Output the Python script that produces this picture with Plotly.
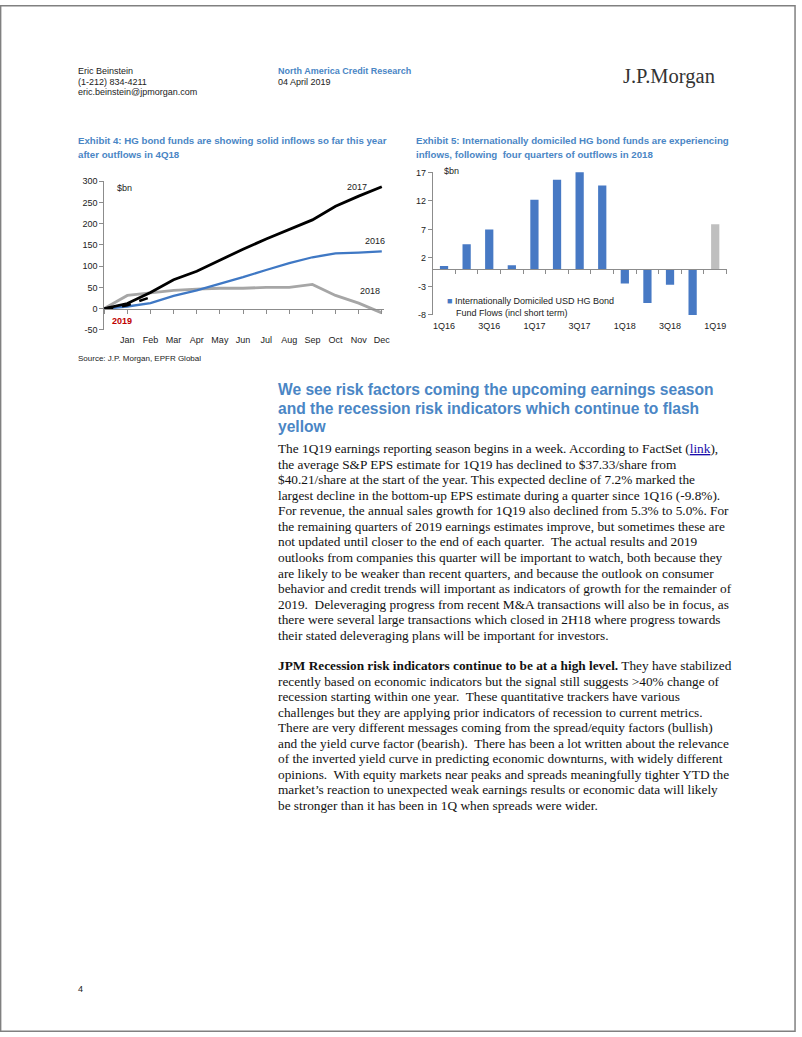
import plotly.graph_objects as go

W, H = 802, 1037

# ---------------- data ----------------
months = ["Jan", "Feb", "Mar", "Apr", "May", "Jun", "Jul", "Aug", "Sep", "Oct", "Nov", "Dec"]
month_pos = list(range(0, 13))  # 0 = start of year
flows_2016 = [0, 5, 13, 30, 43, 58, 74, 91, 107, 121, 130, 132, 135]
flows_2017 = [0, 12, 38, 68, 88, 114, 140, 164, 187, 209, 241, 265, 287]
flows_2018 = [0, 31, 37, 43, 46, 48, 48, 50, 50, 57, 31, 13, -10]
pos_2019 = [0, 0.5, 1.0, 1.5, 1.9]
flows_2019 = [0, 3, 8, 17, 25]

quarters = ["1Q16", "2Q16", "3Q16", "4Q16", "1Q17", "2Q17", "3Q17", "4Q17",
            "1Q18", "2Q18", "3Q18", "4Q18", "1Q19"]
intl_flows = [0.6, 4.4, 7.0, 0.7, 12.2, 15.7, 17.2, 14.7, -2.5, -5.9, -2.7, -8.0, 7.9]
quarter_ticks = quarters[::2]

y1_ticks = [-50, 0, 50, 100, 150, 200, 250, 300]
y2_ticks = [-8, -3, 2, 7, 12, 17]

# ---------------- styles ----------------
SANS = "Arial, Liberation Sans, sans-serif"
SERIF = "Times New Roman, Liberation Serif, serif"
TITLE_BLUE = "#4a86c5"
LINE_BLUE = "#3f78c4"
BAR_BLUE = "#4779c4"
AXIS_GRAY = "#8c8c8c"
TXT = "#222222"


def px(x):
    return x / W


def py(y):
    return 1 - y / H


fig = go.Figure()

# Exhibit 4 lines
fig.add_trace(go.Scatter(x=month_pos, y=flows_2018, mode="lines",
                         line=dict(color="#a6a6a6", width=2.8), xaxis="x", yaxis="y"))
fig.add_trace(go.Scatter(x=month_pos, y=flows_2016, mode="lines",
                         line=dict(color=LINE_BLUE, width=2.3), xaxis="x", yaxis="y"))
fig.add_trace(go.Scatter(x=month_pos, y=flows_2017, mode="lines",
                         line=dict(color="#000000", width=2.8), xaxis="x", yaxis="y"))
fig.add_trace(go.Scatter(x=pos_2019, y=flows_2019, mode="lines",
                         line=dict(color="#000000", width=2.6, dash="dash"), xaxis="x3", yaxis="y"))

# Exhibit 5 bars
bar_colors = [BAR_BLUE] * (len(quarters) - 1) + ["#bfbfbf"]
fig.add_trace(go.Bar(x=list(range(len(quarters))), y=intl_flows, marker=dict(color=bar_colors, line=dict(width=0)),
                     xaxis="x2", yaxis="y2"))
fig.add_trace(go.Scatter(x=[None], y=[None], mode="lines", xaxis="x4", yaxis="y2", hoverinfo="skip"))

tickfont = dict(family=SANS, size=9, color=TXT)

c1x = [px(105), px(387)]
c1y = [py(328), py(178)]
c2x = [px(436), px(732)]
c2y = [py(313), py(169)]

fig.update_layout(
    width=W, height=H, margin=dict(l=0, r=0, t=0, b=0),
    paper_bgcolor="white", plot_bgcolor="rgba(0,0,0,0)",
    showlegend=False, bargap=0.635,
    xaxis=dict(domain=c1x, range=[0, 12.1], anchor="y", tickmode="array",
               tickvals=month_pos[1:], ticktext=months, showline=False, ticks="",
               showgrid=False, zeroline=False, tickfont=tickfont, ticklabelstandoff=3),
    yaxis=dict(domain=c1y, range=[-50, 300], anchor="x", tickmode="array", tickvals=y1_ticks,
               ticktext=[str(v) for v in y1_ticks],
               showline=True, linecolor=AXIS_GRAY, linewidth=1, ticks="outside", ticklen=4,
               tickcolor=AXIS_GRAY, showgrid=False, zeroline=False, tickfont=tickfont),
    xaxis3=dict(overlaying="x", range=[0, 12.1], anchor="free", position=py(307),
                tickmode="array", tickvals=month_pos, showticklabels=False, ticks="outside",
                ticklen=4, tickcolor=AXIS_GRAY, showline=True, linecolor=AXIS_GRAY, linewidth=1,
                showgrid=False, zeroline=False),
    xaxis2=dict(domain=c2x, range=[-0.5, 12.5], anchor="y2", tickmode="array",
                tickvals=list(range(0, len(quarters), 2)), ticktext=quarter_ticks,
                showline=False, ticks="", showgrid=False, zeroline=False, tickfont=tickfont,
                ticklabelstandoff=4),
    yaxis2=dict(domain=c2y, range=[-8, 17], anchor="x2", tickmode="array", tickvals=y2_ticks,
                ticktext=[str(v) for v in y2_ticks],
                showline=True, linecolor=AXIS_GRAY, linewidth=1, ticks="outside", ticklen=4,
                tickcolor=AXIS_GRAY, showgrid=False, zeroline=False, tickfont=tickfont),
    xaxis4=dict(overlaying="x2", range=[-0.5, 12.5], anchor="free", position=py(266.9),
                tickmode="array", tickvals=[i + 0.5 for i in range(-1, len(quarters))],
                showticklabels=False, ticks="outside", ticklen=4, tickcolor=AXIS_GRAY,
                showline=True, linecolor=AXIS_GRAY, linewidth=1, showgrid=False, zeroline=False),
)

ann = []


def text(x, y, s, size=9, color=TXT, family=SANS, xanchor="left"):
    ann.append(dict(x=px(x), y=py(y), xref="paper", yref="paper", text=s, showarrow=False,
                    xanchor=xanchor, yanchor="middle", align="left",
                    font=dict(family=family, size=size, color=color)))


# header
text(77, 67, "Eric Beinstein")
text(77, 78, "(1-212) 834-4211")
text(77, 88, "eric.beinstein@jpmorgan.com")
text(278, 67, "<b>North America Credit Research</b>", color=TITLE_BLUE)
text(278, 78, "04 April 2019")
text(626, 72, "J.P.Morgan", size=20.5, color="#333333", family=SERIF)

# exhibit titles
t4 = 9.7
text(77, 137, "<b>Exhibit 4: HG bond funds are showing solid inflows so far this year</b>", size=t4, color=TITLE_BLUE)
text(77, 151, "<b>after outflows in 4Q18</b>", size=t4, color=TITLE_BLUE)
text(417, 137, "<b>Exhibit 5: Internationally domiciled HG bond funds are experiencing</b>", size=t4, color=TITLE_BLUE)
text(417, 151, "<b>inflows, following  four quarters of outflows in 2018</b>", size=t4, color=TITLE_BLUE)

# chart 1 labels
text(116, 185, "$bn")
text(360, 184, "2017", xanchor="center")
text(378, 238, "2016", xanchor="center")
text(373, 289, "2018", xanchor="center")
text(123, 319, "<b>2019</b>", color="#c00000", xanchor="center")
text(77, 357, "Source: J.P. Morgan, EPFR Global", size=8)

# chart 2 labels
text(445, 168, "$bn")
text(448, 299, "<span style='color:%s'>■</span> Internationally Domiciled USD HG Bond" % BAR_BLUE)
text(457, 311, "Fund Flows (incl short term)")

# heading
heading = ["We see risk factors coming the upcoming earnings season",
           "and the recession risk indicators which continue to flash",
           "yellow"]
for i, s in enumerate(heading):
    text(278, 388 + i * 19, "<b>%s</b>" % s, size=15.6, color=TITLE_BLUE)

para1 = [
    "The 1Q19 earnings reporting season begins in a week. According to FactSet (<span style='color:#1a0dab'><u>link</u></span>),",
    "the average S&amp;P EPS estimate for 1Q19 has declined to $37.33/share from",
    "$40.21/share at the start of the year. This expected decline of 7.2% marked the",
    "largest decline in the bottom-up EPS estimate during a quarter since 1Q16 (-9.8%).",
    "For revenue, the annual sales growth for 1Q19 also declined from 5.3% to 5.0%. For",
    "the remaining quarters of 2019 earnings estimates improve, but sometimes these are",
    "not updated until closer to the end of each quarter.  The actual results and 2019",
    "outlooks from companies this quarter will be important to watch, both because they",
    "are likely to be weaker than recent quarters, and because the outlook on consumer",
    "behavior and credit trends will important as indicators of growth for the remainder of",
    "2019.  Deleveraging progress from recent M&amp;A transactions will also be in focus, as",
    "there were several large transactions which closed in 2H18 where progress towards",
    "their stated deleveraging plans will be important for investors.",
]
para2 = [
    "<b>JPM Recession risk indicators continue to be at a high level.</b> They have stabilized",
    "recently based on economic indicators but the signal still suggests &gt;40% change of",
    "recession starting within one year.  These quantitative trackers have various",
    "challenges but they are applying prior indicators of recession to current metrics.",
    "There are very different messages coming from the spread/equity factors (bullish)",
    "and the yield curve factor (bearish).  There has been a lot written about the relevance",
    "of the inverted yield curve in predicting economic downturns, with widely different",
    "opinions.  With equity markets near peaks and spreads meaningfully tighter YTD the",
    "market\u2019s reaction to unexpected weak earnings results or economic data will likely",
    "be stronger than it has been in 1Q when spreads were wider.",
]
BODY = 13.3
for i, s in enumerate(para1):
    text(278, 448 + i * 15.7, s, size=BODY, color="#111111", family=SERIF)
for i, s in enumerate(para2):
    text(278, 667 + i * 15.7, s, size=BODY, color="#111111", family=SERIF)

text(77, 994, "4", size=9)

fig.update_layout(annotations=ann)
fig.add_shape(type="rect", xref="paper", yref="paper", x0=0.0008, y0=0.0008, x1=0.9988, y1=0.9992,
              line=dict(color="#808080", width=1.5), fillcolor="rgba(0,0,0,0)", layer="above")

fig.write_html(
    "out.html",
    config={"displayModeBar": False},
    post_script=(
        "var gd=document.getElementById('{plot_id}');"
        "gd.style.position='fixed';gd.style.left='0px';gd.style.top='0px';"
        "document.documentElement.style.margin='0';document.documentElement.style.padding='0';"
        "document.body.style.margin='0';document.body.style.padding='0';"
        "document.documentElement.style.overflow='hidden';document.body.style.overflow='hidden';"
    ),
)
